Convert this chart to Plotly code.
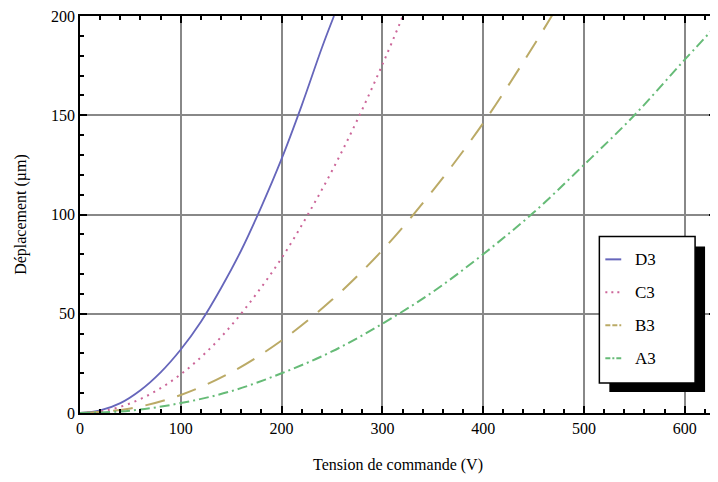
import plotly.graph_objects as go

# Data (Tension de commande (V) -> Déplacement (µm))
d3_x = [0, 20, 40, 60, 80, 100, 120, 140, 160, 180, 200, 220, 240, 252]
d3_y = [0, 1.3, 5, 11.5, 20.5, 32, 46, 63, 82, 104, 128, 155, 184, 200]

c3_x = [0, 25, 50, 75, 100, 125, 150, 175, 200, 225, 250, 275, 300, 322]
c3_y = [0, 1.2, 4.9, 11, 19.5, 30.5, 44, 60, 78, 99, 122, 147.5, 175.5, 202]

b3_x = [0, 50, 100, 150, 200, 250, 300, 350, 400, 450, 470]
b3_y = [0, 2.3, 9.1, 20.5, 36.5, 57, 82, 112, 146, 185, 201.7]

a3_x = [0, 50, 100, 150, 200, 250, 300, 350, 400, 450, 500, 550, 600, 640]
a3_y = [0, 1.2, 5, 11, 20, 31, 45, 61, 80, 101, 125, 150, 178, 200]

names = ["D3", "C3", "B3", "A3"]
colors = ["#6666bb", "#cc6699", "#bbaa66", "#66bb77"]
dashes = ["solid", "2px,5px", "20px,13px", "10px,4px,2px,4px"]
widths = [1.8, 2, 2, 2]

x_ticks = [0, 100, 200, 300, 400, 500, 600]
y_ticks = [0, 50, 100, 150, 200]

FONT = "Liberation Serif"

fig = go.Figure()
for xs, ys, n, c, d, w in zip([d3_x, c3_x, b3_x, a3_x], [d3_y, c3_y, b3_y, a3_y],
                              names, colors, dashes, widths):
    fig.add_trace(go.Scatter(x=xs, y=ys, mode="lines", name=n, showlegend=False,
                             line=dict(color=c, dash=d, width=w, shape="spline")))

axis_common = dict(
    showline=True, linecolor="black", linewidth=1.5, mirror="allticks",
    ticks="inside", ticklen=7, tickwidth=1.5, tickcolor="black",
    showgrid=True, gridcolor="#888888", gridwidth=2,
    zeroline=False, tickfont=dict(family=FONT, size=16, color="black"),
    ticklabeloverflow="allow",
)

fig.update_xaxes(range=[0, 631], tickvals=x_ticks,
                 minor=dict(dtick=20, ticks="inside", ticklen=4, tickcolor="black", showgrid=False),
                 title=dict(text="Tension de commande (V)", font=dict(family=FONT, size=16, color="black"),
                            standoff=25),
                 **axis_common)
fig.update_yaxes(range=[0, 200], tickvals=y_ticks,
                 minor=dict(dtick=10, ticks="inside", ticklen=4, tickcolor="black", showgrid=False),
                 title=dict(text="Déplacement (µm)", font=dict(family=FONT, size=16, color="black"),
                            standoff=20),
                 **axis_common)

# Manual legend (box with drop shadow)
shapes = [
    dict(type="rect", xref="paper", yref="paper", x0=0.8323, x1=0.9828, y0=0.0528, y1=0.4196,
         fillcolor="black", line=dict(color="black", width=0), layer="above"),
    dict(type="rect", xref="paper", yref="paper", x0=0.8166, x1=0.9671, y0=0.0754, y1=0.4447,
         fillcolor="white", line=dict(color="black", width=1.5), layer="above"),
]
rows = [0.387, 0.304, 0.221, 0.138]
sample_dashes = ["solid", "2px,4px", "5px,2px", "5px,2px,2px,2px"]
annotations = []
for n, c, d, yr in zip(names, colors, sample_dashes, rows):
    shapes.append(dict(type="line", xref="paper", yref="paper", x0=0.826, x1=0.851, y0=yr, y1=yr,
                       line=dict(color=c, width=2, dash=d), layer="above"))
    annotations.append(dict(xref="paper", yref="paper", x=0.870, y=yr, text=n, showarrow=False,
                            xanchor="left", yanchor="middle",
                            font=dict(family=FONT, size=17, color="black")))

# page body has an 8px margin, so the figure is sized to fit inside the window without scrolling
fig.update_layout(
    width=710, height=466,
    margin=dict(l=72, r=0, t=7, b=61),
    plot_bgcolor="white", paper_bgcolor="white",
    shapes=shapes, annotations=annotations,
    showlegend=False,
)

fig.write_html("out.html")
